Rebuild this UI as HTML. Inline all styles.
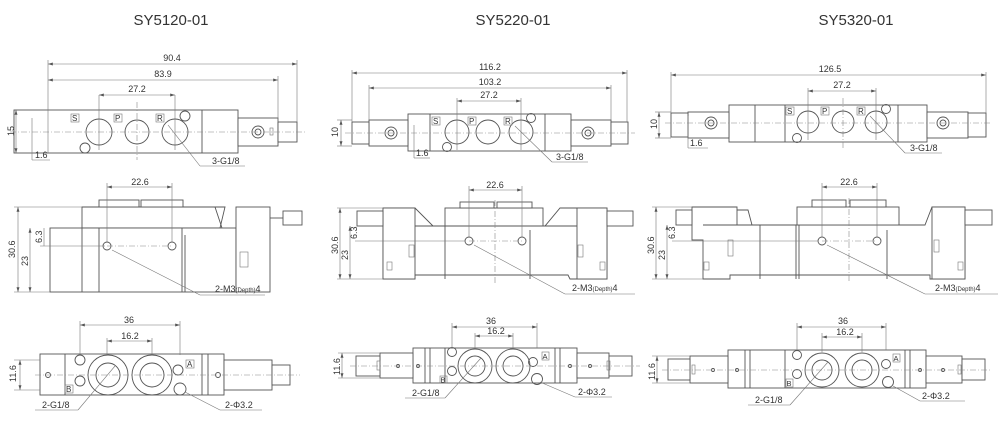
<!DOCTYPE html>
<html><head><meta charset="utf-8"><style>
html,body{margin:0;padding:0;background:#fff}
svg{display:block}
text{font-family:"Liberation Sans",sans-serif;fill:#333}
.l{stroke:#555;stroke-width:.9;fill:none}
.t{stroke:#777;stroke-width:.6;fill:none}
.c{stroke:#888;stroke-width:.6;fill:none;stroke-dasharray:6 2 1 2}
.d{font-size:9px}
.b{fill:#fff;stroke:#555;stroke-width:.9}
</style></head><body>
<svg width="1000" height="433" viewBox="0 0 1000 433" xmlns="http://www.w3.org/2000/svg">
<defs>
<marker id="a" viewBox="0 0 8 6" refX="8" refY="3" markerWidth="8" markerHeight="6" orient="auto-start-reverse"><path d="M0,0.5L8,3L0,5.5" fill="#555"/></marker>
</defs>
<text x="171" y="25" font-size="15" text-anchor="middle">SY5120-01</text>
<text x="513" y="25" font-size="15" text-anchor="middle">SY5220-01</text>
<text x="856" y="25" font-size="15" text-anchor="middle">SY5320-01</text>

<!-- ===== COL1 TOP ===== -->
<g>
<rect class="b" x="14" y="110" width="224" height="43"/>
<line class="l" x1="202" y1="110" x2="202" y2="153"/>
<rect class="b" x="238" y="118" width="40" height="28"/>
<rect class="b" x="278" y="122" width="19" height="20"/>
<circle class="l" cx="258" cy="132" r="6"/><circle class="l" cx="258" cy="132" r="3"/>
<rect class="t" x="270" y="128" width="3" height="7"/>
<circle class="l" cx="99" cy="132" r="13"/><circle class="l" cx="137" cy="132" r="12"/><circle class="l" cx="175" cy="132" r="13"/>
<circle class="l" cx="85" cy="148" r="5"/><circle class="l" cx="185" cy="116" r="5"/>
<line class="c" x1="10" y1="132" x2="305" y2="132"/>
<line class="c" x1="137" y1="102" x2="137" y2="160"/>
<line class="t" x1="99" y1="95" x2="99" y2="150"/><line class="t" x1="175" y1="95" x2="175" y2="150"/>
<line class="t" x1="48" y1="60" x2="48" y2="153"/><line class="t" x1="297" y1="60" x2="297" y2="122"/><line class="t" x1="278" y1="76" x2="278" y2="122"/>
<line class="t" x1="48" y1="64" x2="297" y2="64" marker-start="url(#a)" marker-end="url(#a)"/>
<line class="t" x1="48" y1="80" x2="278" y2="80" marker-start="url(#a)" marker-end="url(#a)"/>
<line class="t" x1="99" y1="95" x2="175" y2="95" marker-start="url(#a)" marker-end="url(#a)"/>
<text class="d" x="172" y="61" text-anchor="middle">90.4</text>
<text class="d" x="163" y="77" text-anchor="middle">83.9</text>
<text class="d" x="137" y="92" text-anchor="middle">27.2</text>
<rect class="t" x="71" y="114" width="8" height="8"/><text x="72" y="121" font-size="8">S</text>
<rect class="t" x="114" y="114" width="8" height="8"/><text x="115" y="121" font-size="8">P</text>
<rect class="t" x="156" y="114" width="8" height="8"/><text x="157" y="121" font-size="8">R</text>
<line class="t" x1="16" y1="110" x2="16" y2="153" marker-start="url(#a)" marker-end="url(#a)"/>
<text class="d" transform="translate(14,136) rotate(-90)">15</text>
<line class="t" x1="32" y1="118" x2="32" y2="160"/><line class="t" x1="32" y1="160" x2="50" y2="160"/>
<text class="d" x="35" y="158">1.6</text>
<line class="t" x1="168" y1="125" x2="200" y2="166"/><line class="t" x1="200" y1="166" x2="245" y2="166"/>
<text class="d" x="212" y="164">3-G1/8</text>
</g>

<!-- ===== COL1 SIDE ===== -->
<g>
<path class="b" d="M82,207 L215,207 L222,228 L82,228 Z"/>
<rect class="b" x="99" y="200" width="40" height="7"/><rect class="b" x="141" y="200" width="42" height="7"/>
<rect class="b" x="50" y="228" width="186" height="64"/>
<path class="l" d="M215,207 L225,207 L220,228"/>
<rect class="b" x="236" y="207" width="34" height="85"/>
<rect class="b" x="283" y="211" width="19" height="14"/>
<line class="l" x1="270" y1="218" x2="283" y2="218"/>
<rect class="t" x="240" y="252" width="8" height="15"/>
<line class="l" x1="82" y1="228" x2="82" y2="292"/><line class="l" x1="99" y1="228" x2="99" y2="292"/>
<line class="l" x1="182" y1="228" x2="182" y2="292"/><line class="l" x1="185" y1="235" x2="185" y2="292"/>
<circle class="l" cx="107" cy="246" r="4"/><circle class="l" cx="172" cy="246" r="4"/>
<line class="c" x1="107" y1="246" x2="172" y2="246"/>
<line class="t" x1="107" y1="183" x2="107" y2="242"/><line class="t" x1="172" y1="183" x2="172" y2="242"/>
<line class="t" x1="107" y1="187" x2="172" y2="187" marker-start="url(#a)" marker-end="url(#a)"/>
<text class="d" x="140" y="185" text-anchor="middle">22.6</text>
<line class="t" x1="14" y1="207" x2="82" y2="207"/><line class="t" x1="14" y1="292" x2="50" y2="292"/>
<line class="t" x1="18" y1="207" x2="18" y2="292" marker-start="url(#a)" marker-end="url(#a)"/>
<text class="d" transform="translate(15,258) rotate(-90)">30.6</text>
<line class="t" x1="30" y1="228" x2="30" y2="292" marker-start="url(#a)" marker-end="url(#a)"/>
<text class="d" transform="translate(28,266) rotate(-90)">23</text>
<line class="t" x1="40" y1="246" x2="105" y2="246"/>
<line class="t" x1="44" y1="228" x2="44" y2="246"/>
<text class="d" transform="translate(42,243) rotate(-90)">6.3</text>
<line class="t" x1="112" y1="250" x2="200" y2="295"/><line class="t" x1="200" y1="295" x2="265" y2="295"/>
<text class="d" x="215" y="292">2-M3<tspan font-size="6">(Depth)</tspan>4</text>
</g>

<!-- ===== COL1 BOTTOM ===== -->
<g>
<rect class="b" x="40" y="354" width="184" height="41"/>
<rect class="b" x="224" y="360" width="48" height="30"/>
<rect class="b" x="272" y="365" width="18" height="20"/>
<line class="l" x1="65" y1="354" x2="65" y2="395"/>
<line class="l" x1="202" y1="354" x2="202" y2="395"/><line class="l" x1="208" y1="354" x2="208" y2="395"/>
<circle class="l" cx="108" cy="375" r="20"/><circle class="l" cx="108" cy="375" r="12"/>
<circle class="l" cx="152" cy="375" r="20"/><circle class="l" cx="152" cy="375" r="12"/>
<circle class="l" cx="80" cy="360" r="5"/><circle class="l" cx="80" cy="381" r="5"/>
<circle class="l" cx="178" cy="370" r="5"/><circle class="l" cx="180" cy="389" r="6"/>
<circle class="l" cx="48" cy="375" r="2.5"/><circle class="l" cx="218" cy="375" r="2.5"/>
<line class="c" x1="35" y1="375" x2="300" y2="375"/>
<rect class="t" x="186" y="360" width="8" height="8"/><text x="187" y="367" font-size="8">A</text>
<rect class="t" x="65" y="385" width="8" height="8"/><text x="66" y="392" font-size="8">B</text>
<line class="t" x1="80" y1="321" x2="80" y2="355"/><line class="t" x1="180" y1="321" x2="180" y2="355"/>
<line class="t" x1="80" y1="325" x2="180" y2="325" marker-start="url(#a)" marker-end="url(#a)"/>
<text class="d" x="129" y="323" text-anchor="middle">36</text>
<line class="t" x1="107" y1="338" x2="107" y2="355"/><line class="t" x1="152" y1="338" x2="152" y2="355"/>
<line class="t" x1="107" y1="341" x2="152" y2="341" marker-start="url(#a)" marker-end="url(#a)"/>
<text class="d" x="130" y="339" text-anchor="middle">16.2</text>
<line class="t" x1="14" y1="360" x2="40" y2="360"/><line class="t" x1="14" y1="390" x2="40" y2="390"/>
<line class="t" x1="20" y1="360" x2="20" y2="390" marker-start="url(#a)" marker-end="url(#a)"/>
<text class="d" transform="translate(16,382) rotate(-90)">11.6</text>
<line class="t" x1="115" y1="366" x2="78" y2="410"/><line class="t" x1="35" y1="410" x2="78" y2="410"/>
<text class="d" x="42" y="408">2-G1/8</text>
<line class="t" x1="185" y1="392" x2="220" y2="410"/><line class="t" x1="220" y1="410" x2="262" y2="410"/>
<text class="d" x="225" y="408">2-Φ3.2</text>
</g>

<!-- ===== COL2 TOP ===== -->
<g>
<rect class="b" x="408" y="114" width="163" height="37"/>
<rect class="b" x="369" y="120" width="39" height="26"/><rect class="b" x="352" y="122" width="17" height="22"/>
<rect class="b" x="571" y="120" width="40" height="26"/><rect class="b" x="611" y="122" width="17" height="22"/>
<line class="l" x1="430" y1="114" x2="430" y2="151"/><line class="l" x1="545" y1="114" x2="545" y2="151"/>
<circle class="l" cx="391" cy="133" r="6"/><circle class="l" cx="391" cy="133" r="3"/>
<circle class="l" cx="588" cy="133" r="6"/><circle class="l" cx="588" cy="133" r="3"/>
<circle class="l" cx="457" cy="132" r="12"/><circle class="l" cx="488" cy="132" r="12"/><circle class="l" cx="521" cy="132" r="12"/>
<circle class="l" cx="447" cy="147" r="4.5"/><circle class="l" cx="531" cy="118" r="4.5"/>
<line class="c" x1="345" y1="133" x2="635" y2="133"/>
<line class="t" x1="352" y1="70" x2="352" y2="122"/><line class="t" x1="627" y1="70" x2="627" y2="122"/>
<line class="t" x1="369" y1="85" x2="369" y2="120"/><line class="t" x1="611" y1="85" x2="611" y2="120"/>
<line class="t" x1="457" y1="98" x2="457" y2="150"/><line class="t" x1="521" y1="98" x2="521" y2="150"/>
<line class="t" x1="352" y1="73" x2="627" y2="73" marker-start="url(#a)" marker-end="url(#a)"/>
<line class="t" x1="369" y1="88" x2="611" y2="88" marker-start="url(#a)" marker-end="url(#a)"/>
<line class="t" x1="457" y1="101" x2="521" y2="101" marker-start="url(#a)" marker-end="url(#a)"/>
<text class="d" x="490" y="70" text-anchor="middle">116.2</text>
<text class="d" x="490" y="85" text-anchor="middle">103.2</text>
<text class="d" x="489" y="98" text-anchor="middle">27.2</text>
<rect class="t" x="432" y="117" width="8" height="8"/><text x="433" y="124" font-size="8">S</text>
<rect class="t" x="468" y="117" width="8" height="8"/><text x="469" y="124" font-size="8">P</text>
<rect class="t" x="504" y="117" width="8" height="8"/><text x="505" y="124" font-size="8">R</text>
<line class="t" x1="337" y1="120" x2="352" y2="120"/><line class="t" x1="337" y1="146" x2="352" y2="146"/>
<line class="t" x1="341" y1="120" x2="341" y2="146" marker-start="url(#a)" marker-end="url(#a)"/>
<text class="d" transform="translate(338,137) rotate(-90)">10</text>
<line class="t" x1="414" y1="125" x2="414" y2="158"/><line class="t" x1="414" y1="158" x2="430" y2="158"/>
<text class="d" x="416" y="156">1.6</text>
<line class="t" x1="515" y1="126" x2="552" y2="162"/><line class="t" x1="552" y1="162" x2="588" y2="162"/>
<text class="d" x="556" y="160">3-G1/8</text>
</g>

<!-- ===== COL2 SIDE ===== -->
<g>
<path class="b" d="M383,208 L415,208 L433,226 L545,226 L560,208 L607,208 L607,279 L570,279 L568,275 L415,275 L415,279 L383,279 Z"/>
<rect class="b" x="445" y="208" width="98" height="18"/>
<rect class="b" x="460" y="202" width="34" height="6"/><rect class="b" x="497" y="202" width="35" height="6"/>
<rect class="b" x="383" y="208" width="32" height="71"/><rect class="b" x="577" y="208" width="30" height="71"/>
<rect class="b" x="357" y="211" width="26" height="15"/><rect class="b" x="607" y="211" width="26" height="15"/>
<line class="l" x1="415" y1="226" x2="577" y2="226"/>
<line class="l" x1="445" y1="226" x2="445" y2="279"/><line class="l" x1="530" y1="230" x2="530" y2="279"/>
<rect class="t" x="409" y="245" width="5" height="12"/><rect class="t" x="578" y="245" width="5" height="12"/>
<rect class="t" x="387" y="262" width="5" height="8"/><rect class="t" x="600" y="262" width="5" height="8"/>
<line class="c" x1="495" y1="200" x2="495" y2="283"/>
<circle class="l" cx="469" cy="241" r="4"/><circle class="l" cx="522" cy="241" r="4"/>
<line class="c" x1="469" y1="241" x2="522" y2="241"/>
<line class="t" x1="469" y1="186" x2="469" y2="237"/><line class="t" x1="522" y1="186" x2="522" y2="237"/>
<line class="t" x1="469" y1="190" x2="522" y2="190" marker-start="url(#a)" marker-end="url(#a)"/>
<text class="d" x="495" y="188" text-anchor="middle">22.6</text>
<line class="t" x1="337" y1="208" x2="383" y2="208"/><line class="t" x1="337" y1="279" x2="383" y2="279"/>
<line class="t" x1="340" y1="208" x2="340" y2="279" marker-start="url(#a)" marker-end="url(#a)"/>
<text class="d" transform="translate(338,254) rotate(-90)">30.6</text>
<line class="t" x1="350" y1="226" x2="350" y2="279" marker-start="url(#a)" marker-end="url(#a)"/>
<text class="d" transform="translate(348,260) rotate(-90)">23</text>
<line class="t" x1="355" y1="241" x2="465" y2="241"/>
<text class="d" transform="translate(357,239) rotate(-90)">6.3</text>
<line class="t" x1="474" y1="245" x2="565" y2="294"/><line class="t" x1="565" y1="294" x2="635" y2="294"/>
<text class="d" x="572" y="291">2-M3<tspan font-size="6">(Depth)</tspan>4</text>
</g>

<!-- ===== COL2 BOTTOM ===== -->
<g>
<rect class="b" x="413" y="348" width="164" height="35"/>
<rect class="b" x="380" y="353" width="33" height="25"/><rect class="b" x="356" y="356" width="24" height="20"/>
<rect class="b" x="577" y="353" width="32" height="25"/><rect class="b" x="609" y="356" width="23" height="20"/>
<line class="l" x1="425" y1="348" x2="425" y2="383"/><line class="l" x1="430" y1="348" x2="430" y2="383"/><line class="l" x1="445" y1="348" x2="445" y2="383"/>
<line class="l" x1="555" y1="348" x2="555" y2="383"/><line class="l" x1="560" y1="348" x2="560" y2="383"/>
<circle class="l" cx="475" cy="366" r="17"/><circle class="l" cx="475" cy="366" r="10"/>
<circle class="l" cx="513" cy="366" r="17"/><circle class="l" cx="513" cy="366" r="10"/>
<circle class="l" cx="452" cy="352" r="4.5"/><circle class="l" cx="452" cy="371" r="4.5"/>
<circle class="l" cx="533" cy="362" r="4.5"/><circle class="l" cx="537" cy="379" r="5.5"/>
<circle class="l" cx="398" cy="366" r="1.5"/><circle class="l" cx="418" cy="366" r="1.5"/><circle class="l" cx="570" cy="366" r="1.5"/><circle class="l" cx="590" cy="366" r="1.5"/>
<rect class="t" x="377" y="361" width="3" height="9"/><rect class="t" x="607" y="361" width="3" height="9"/>
<line class="c" x1="350" y1="366" x2="640" y2="366"/>
<rect class="t" x="542" y="352" width="7" height="8"/><text x="542.5" y="359" font-size="7.5">A</text>
<rect class="t" x="440" y="376" width="7" height="7"/><text x="440.5" y="382.5" font-size="7.5">B</text>
<line class="t" x1="452" y1="323" x2="452" y2="348"/><line class="t" x1="537" y1="323" x2="537" y2="348"/>
<line class="t" x1="452" y1="327" x2="537" y2="327" marker-start="url(#a)" marker-end="url(#a)"/>
<text class="d" x="491" y="324" text-anchor="middle">36</text>
<line class="t" x1="475" y1="333" x2="475" y2="349"/><line class="t" x1="513" y1="333" x2="513" y2="349"/>
<line class="t" x1="475" y1="336" x2="513" y2="336" marker-start="url(#a)" marker-end="url(#a)"/>
<text class="d" x="496" y="334" text-anchor="middle">16.2</text>
<line class="t" x1="338" y1="353" x2="380" y2="353"/><line class="t" x1="338" y1="378" x2="380" y2="378"/>
<line class="t" x1="342" y1="353" x2="342" y2="378" marker-start="url(#a)" marker-end="url(#a)"/>
<text class="d" transform="translate(340,375) rotate(-90)">11.6</text>
<line class="t" x1="481" y1="358" x2="445" y2="398"/><line class="t" x1="405" y1="398" x2="445" y2="398"/>
<text class="d" x="412" y="396">2-G1/8</text>
<line class="t" x1="540" y1="382" x2="575" y2="397"/><line class="t" x1="575" y1="397" x2="612" y2="397"/>
<text class="d" x="578" y="395">2-Φ3.2</text>
</g>

<!-- ===== COL3 TOP ===== -->
<g>
<rect class="b" x="729" y="105" width="198" height="37"/>
<rect class="b" x="688" y="112" width="41" height="26"/><rect class="b" x="671" y="113" width="17" height="24"/>
<rect class="b" x="927" y="112" width="41" height="26"/><rect class="b" x="968" y="113" width="18" height="24"/>
<line class="l" x1="755" y1="105" x2="755" y2="142"/><line class="l" x1="785" y1="105" x2="785" y2="142"/><line class="l" x1="898" y1="105" x2="898" y2="142"/>
<circle class="l" cx="711" cy="123" r="6"/><circle class="l" cx="711" cy="123" r="3"/>
<circle class="l" cx="943" cy="123" r="6"/><circle class="l" cx="943" cy="123" r="3"/>
<circle class="l" cx="808" cy="122" r="11"/><circle class="l" cx="843" cy="122" r="11"/><circle class="l" cx="876" cy="122" r="11"/>
<circle class="l" cx="797" cy="138" r="4.5"/><circle class="l" cx="886" cy="109" r="4.5"/>
<line class="c" x1="665" y1="123" x2="992" y2="123"/>
<line class="c" x1="843" y1="98" x2="843" y2="150"/>
<line class="t" x1="671" y1="72" x2="671" y2="113"/><line class="t" x1="986" y1="72" x2="986" y2="113"/>
<line class="t" x1="808" y1="88" x2="808" y2="140"/><line class="t" x1="876" y1="88" x2="876" y2="140"/>
<line class="t" x1="671" y1="75" x2="986" y2="75" marker-start="url(#a)" marker-end="url(#a)"/>
<line class="t" x1="808" y1="91" x2="876" y2="91" marker-start="url(#a)" marker-end="url(#a)"/>
<text class="d" x="830" y="72" text-anchor="middle">126.5</text>
<text class="d" x="842" y="88" text-anchor="middle">27.2</text>
<rect class="t" x="786" y="107" width="8" height="8"/><text x="787" y="114" font-size="8">S</text>
<rect class="t" x="821" y="107" width="8" height="8"/><text x="822" y="114" font-size="8">P</text>
<rect class="t" x="857" y="107" width="8" height="8"/><text x="858" y="114" font-size="8">R</text>
<line class="t" x1="655" y1="112" x2="671" y2="112"/><line class="t" x1="655" y1="138" x2="671" y2="138"/>
<line class="t" x1="659" y1="112" x2="659" y2="138" marker-start="url(#a)" marker-end="url(#a)"/>
<text class="d" transform="translate(657,129) rotate(-90)">10</text>
<line class="t" x1="688" y1="116" x2="688" y2="148"/><line class="t" x1="688" y1="148" x2="708" y2="148"/>
<text class="d" x="690" y="146">1.6</text>
<line class="t" x1="870" y1="116" x2="905" y2="153"/><line class="t" x1="905" y1="153" x2="942" y2="153"/>
<text class="d" x="910" y="151">3-G1/8</text>
</g>

<!-- ===== COL3 SIDE ===== -->
<g>
<path class="b" d="M692,207 L737,207 L737,225 L925,225 L932,207 L965,207 L965,279 L930,279 L930,275 L730,275 L730,279 L703,279 L703,240 L692,240 Z"/>
<rect class="b" x="797" y="207" width="102" height="18"/>
<rect class="b" x="812" y="200" width="34" height="7"/><rect class="b" x="850" y="200" width="36" height="7"/>
<path class="l" d="M737,210 L748,210 L752,225"/>
<rect class="b" x="932" y="207" width="33" height="72"/>
<rect class="b" x="676" y="210" width="16" height="15"/><rect class="b" x="965" y="210" width="27" height="15"/>
<line class="l" x1="703" y1="225" x2="737" y2="225"/>
<line class="l" x1="760" y1="225" x2="760" y2="279"/><line class="l" x1="796" y1="225" x2="796" y2="279"/><line class="l" x1="799" y1="225" x2="799" y2="279"/>
<line class="l" x1="887" y1="230" x2="887" y2="279"/>
<rect class="t" x="728" y="240" width="5" height="16"/><rect class="t" x="934" y="240" width="5" height="12"/>
<rect class="t" x="704" y="262" width="5" height="8"/><rect class="t" x="958" y="262" width="5" height="8"/>
<line class="c" x1="849" y1="198" x2="849" y2="283"/>
<circle class="l" cx="822" cy="241" r="4"/><circle class="l" cx="877" cy="241" r="4"/>
<line class="c" x1="822" y1="241" x2="877" y2="241"/>
<line class="t" x1="822" y1="183" x2="822" y2="237"/><line class="t" x1="877" y1="183" x2="877" y2="237"/>
<line class="t" x1="822" y1="187" x2="877" y2="187" marker-start="url(#a)" marker-end="url(#a)"/>
<text class="d" x="849" y="185" text-anchor="middle">22.6</text>
<line class="t" x1="652" y1="207" x2="692" y2="207"/><line class="t" x1="652" y1="279" x2="703" y2="279"/>
<line class="t" x1="656" y1="207" x2="656" y2="279" marker-start="url(#a)" marker-end="url(#a)"/>
<text class="d" transform="translate(654,254) rotate(-90)">30.6</text>
<line class="t" x1="667" y1="225" x2="667" y2="279" marker-start="url(#a)" marker-end="url(#a)"/>
<text class="d" transform="translate(665,260) rotate(-90)">23</text>
<line class="t" x1="672" y1="241" x2="818" y2="241"/>
<text class="d" transform="translate(675,239) rotate(-90)">6.3</text>
<line class="t" x1="827" y1="245" x2="925" y2="294"/><line class="t" x1="925" y1="294" x2="998" y2="294"/>
<text class="d" x="935" y="291">2-M3<tspan font-size="6">(Depth)</tspan>4</text>
</g>

<!-- ===== COL3 BOTTOM ===== -->
<g>
<rect class="b" x="728" y="350" width="198" height="38"/>
<rect class="b" x="690" y="356" width="38" height="27"/><rect class="b" x="668" y="359" width="22" height="21"/>
<rect class="b" x="926" y="356" width="36" height="27"/><rect class="b" x="962" y="359" width="23" height="21"/>
<line class="l" x1="745" y1="350" x2="745" y2="388"/><line class="l" x1="750" y1="350" x2="750" y2="388"/><line class="l" x1="785" y1="350" x2="785" y2="388"/>
<line class="l" x1="905" y1="350" x2="905" y2="388"/><line class="l" x1="910" y1="350" x2="910" y2="388"/>
<circle class="l" cx="822" cy="370" r="17"/><circle class="l" cx="822" cy="370" r="10"/>
<circle class="l" cx="862" cy="370" r="17"/><circle class="l" cx="862" cy="370" r="10"/>
<circle class="l" cx="797" cy="355" r="4.5"/><circle class="l" cx="797" cy="374" r="4.5"/>
<circle class="l" cx="886" cy="364" r="4.5"/><circle class="l" cx="888" cy="382" r="5.5"/>
<circle class="l" cx="713" cy="370" r="1.5"/><circle class="l" cx="737" cy="370" r="1.5"/><circle class="l" cx="920" cy="370" r="1.5"/><circle class="l" cx="943" cy="370" r="1.5"/>
<rect class="t" x="692" y="365" width="3" height="9"/><rect class="t" x="958" y="365" width="3" height="9"/>
<line class="c" x1="662" y1="370" x2="992" y2="370"/>
<rect class="t" x="893" y="354" width="7" height="8"/><text x="893.5" y="361" font-size="7.5">A</text>
<rect class="t" x="786" y="379" width="7" height="8"/><text x="786.5" y="386" font-size="7.5">B</text>
<line class="t" x1="797" y1="323" x2="797" y2="350"/><line class="t" x1="886" y1="323" x2="886" y2="350"/>
<line class="t" x1="797" y1="327" x2="886" y2="327" marker-start="url(#a)" marker-end="url(#a)"/>
<text class="d" x="843" y="324" text-anchor="middle">36</text>
<line class="t" x1="822" y1="333" x2="822" y2="352"/><line class="t" x1="862" y1="333" x2="862" y2="352"/>
<line class="t" x1="822" y1="337" x2="862" y2="337" marker-start="url(#a)" marker-end="url(#a)"/>
<text class="d" x="845" y="335" text-anchor="middle">16.2</text>
<line class="t" x1="652" y1="356" x2="690" y2="356"/><line class="t" x1="652" y1="383" x2="690" y2="383"/>
<line class="t" x1="657" y1="356" x2="657" y2="383" marker-start="url(#a)" marker-end="url(#a)"/>
<text class="d" transform="translate(655,380) rotate(-90)">11.6</text>
<line class="t" x1="828" y1="362" x2="790" y2="405"/><line class="t" x1="748" y1="405" x2="790" y2="405"/>
<text class="d" x="755" y="403">2-G1/8</text>
<line class="t" x1="893" y1="386" x2="920" y2="401"/><line class="t" x1="920" y1="401" x2="965" y2="401"/>
<text class="d" x="922" y="399">2-Φ3.2</text>
</g>
</svg>
</body></html>
